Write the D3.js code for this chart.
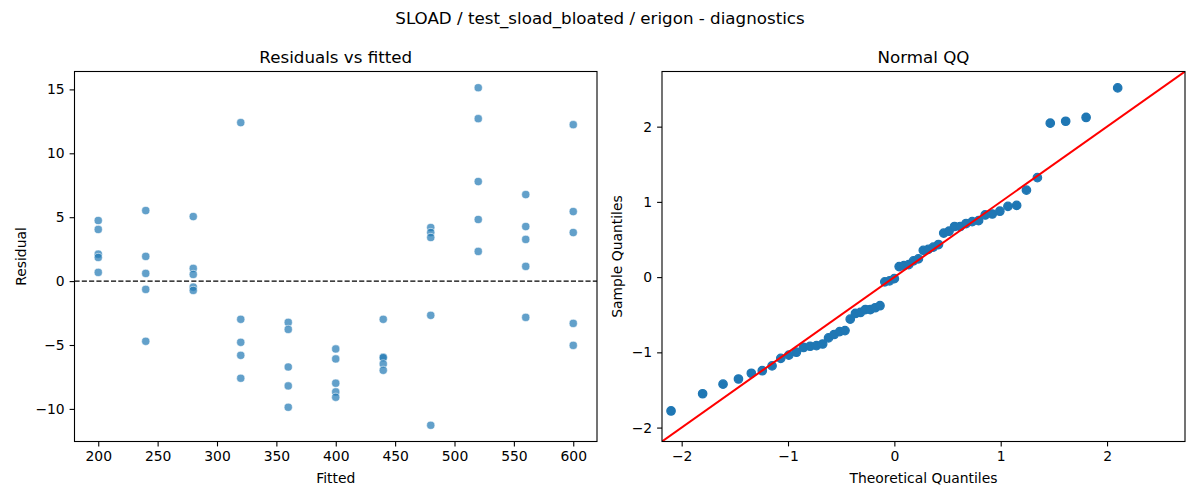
<!DOCTYPE html>
<html>
<head>
<meta charset="utf-8">
<script src="https://cdn.jsdelivr.net/npm/d3@7"></script>
<style>
  body { margin: 0; background: #fff; }
  svg { display: block; font-family: "DejaVu Sans", sans-serif; }
</style>
</head>
<body>
<svg id="chart" width="1200" height="500"></svg>
<script>
// ---- data ----
const fittedLevels = [200, 240, 280, 320, 360, 400, 440, 480, 520, 560, 600];
const residualsByLevel = [
  [4.74, 4.04, 2.11, 1.85, 0.68],
  [5.52, 1.93, 0.60, -0.65, -4.71],
  [5.05, 0.99, 0.52, -0.47, -0.73],
  [12.4, -2.99, -4.79, -5.81, -7.60],
  [-3.23, -3.78, -6.72, -8.20, -9.87],
  [-5.31, -6.09, -7.99, -8.67, -9.09],
  [-2.99, -5.94, -5.99, -6.48, -6.98],
  [4.19, 3.80, 3.41, -2.68, -11.28],
  [15.13, 12.71, 7.79, 4.82, 2.32],
  [6.77, 4.27, 3.26, 1.15, -2.84],
  [12.24, 5.44, 3.80, -3.31, -5.03]
];
const qqTheoretical = [
  -2.100, -1.803, -1.611, -1.466, -1.345, -1.242, -1.150, -1.068, -0.992, -0.921,
  -0.854, -0.792, -0.732, -0.674, -0.619, -0.566, -0.514, -0.464, -0.415, -0.366,
  -0.319, -0.272, -0.226, -0.180, -0.135, -0.090, -0.045, 0.000, 0.045, 0.090,
  0.135, 0.180, 0.226, 0.272, 0.319, 0.366, 0.415, 0.464, 0.514, 0.566,
  0.619, 0.674, 0.732, 0.792, 0.854, 0.921, 0.992, 1.068, 1.150, 1.242,
  1.345, 1.466, 1.611, 1.803, 2.100
];
const qqSample = [
  -1.779, -1.550, -1.423, -1.354, -1.278, -1.244, -1.180, -1.080, -1.037, -0.998,
  -0.935, -0.919, -0.911, -0.889, -0.808, -0.763, -0.724, -0.711, -0.559, -0.483,
  -0.470, -0.431, -0.431, -0.407, -0.380, -0.063, -0.050, -0.021, 0.140, 0.153,
  0.166, 0.216, 0.242, 0.356, 0.369, 0.398, 0.433, 0.585, 0.610, 0.673,
  0.673, 0.712, 0.737, 0.750, 0.826, 0.839, 0.876, 0.940, 0.953, 1.156,
  1.322, 2.046, 2.072, 2.122, 2.515
];
const residTicksX = [200, 250, 300, 350, 400, 450, 500, 550, 600];
const residTicksY = [-10, -5, 0, 5, 10, 15];
const qqTicks = [-2, -1, 0, 1, 2];
const qqLimits = [-2.185, 2.733];

// ---- layout ----
const svg = d3.select("#chart");
const yTop = 71.5, yBot = 441.5;
const L = { x0: 74.5, x1: 597 };
const R = { x0: 662, x1: 1185 };
const fmt = d => String(d).replace("-", "\u2212");
const TICK_FONT = "13.9px";

svg.append("text")
  .attr("x", 600).attr("y", 24)
  .attr("text-anchor", "middle")
  .style("font-size", "16.7px")
  .text("SLOAD / test_sload_bloated / erigon - diagnostics");

function drawAxes(g, x, y, xTicks, yTicks, x0, x1, title, xlabel, ylabel, ylabelX) {
  const gx = g.append("g").attr("transform", `translate(0,${yBot})`)
    .call(d3.axisBottom(x).tickValues(xTicks).tickSize(4.9).tickPadding(4.9).tickFormat(fmt));
  const gy = g.append("g").attr("transform", `translate(${x0},0)`)
    .call(d3.axisLeft(y).tickValues(yTicks).tickSize(4.9).tickPadding(4.9).tickFormat(fmt));
  [gx, gy].forEach(a => {
    a.select(".domain").remove();
    a.selectAll("line").attr("stroke", "#000").attr("stroke-width", 1.1);
    a.selectAll("text").style("font-size", TICK_FONT).attr("fill", "#000")
      .style("font-family", "DejaVu Sans, sans-serif");
  });
  g.append("rect").attr("x", x0).attr("y", yTop)
    .attr("width", x1 - x0).attr("height", yBot - yTop)
    .attr("fill", "none").attr("stroke", "#000").attr("stroke-width", 1.1);
  g.append("text").attr("x", (x0 + x1) / 2).attr("y", yTop - 8.5)
    .attr("text-anchor", "middle").style("font-size", "16.7px").text(title);
  g.append("text").attr("x", (x0 + x1) / 2).attr("y", 483)
    .attr("text-anchor", "middle").style("font-size", "13.9px").text(xlabel);
  g.append("text")
    .attr("transform", `translate(${ylabelX},${(yTop + yBot) / 2}) rotate(-90)`)
    .attr("text-anchor", "middle").style("font-size", "13.9px").text(ylabel);
}

// ---- left: residuals vs fitted ----
const xL = d3.scaleLinear().domain([180, 620]).range([L.x0, L.x1]);
const yL = d3.scaleLinear().domain([-12.55, 16.4]).range([yBot, yTop]);
const gL = svg.append("g");
svg.append("clipPath").attr("id", "clipL")
  .append("rect").attr("x", L.x0).attr("y", yTop).attr("width", L.x1 - L.x0).attr("height", yBot - yTop);

const residPoints = [];
fittedLevels.forEach((f, i) => residualsByLevel[i].forEach(r => residPoints.push({ f, r })));

gL.append("g").attr("clip-path", "url(#clipL)")
  .selectAll("circle").data(residPoints).enter().append("circle")
  .attr("cx", d => xL(d.f)).attr("cy", d => yL(d.r)).attr("r", 4.1)
  .attr("fill", "#1f77b4").attr("fill-opacity", 0.7)
  .attr("stroke", "#fff").attr("stroke-width", 0.8).attr("stroke-opacity", 0.7);

gL.append("line")
  .attr("x1", L.x0).attr("x2", L.x1).attr("y1", yL(0)).attr("y2", yL(0))
  .attr("stroke", "#000").attr("stroke-width", 1.1).attr("stroke-dasharray", "5.1,2.2");

drawAxes(gL, xL, yL, residTicksX, residTicksY, L.x0, L.x1,
  "Residuals vs fitted", "Fitted", "Residual", 26);

// ---- right: normal QQ ----
const xR = d3.scaleLinear().domain(qqLimits).range([R.x0, R.x1]);
const yR = d3.scaleLinear().domain(qqLimits).range([yBot, yTop]);
const gR = svg.append("g");
svg.append("clipPath").attr("id", "clipR")
  .append("rect").attr("x", R.x0).attr("y", yTop).attr("width", R.x1 - R.x0).attr("height", yBot - yTop);
const inner = gR.append("g").attr("clip-path", "url(#clipR)");

inner.selectAll("circle").data(qqTheoretical).enter().append("circle")
  .attr("cx", d => xR(d)).attr("cy", (d, i) => yR(qqSample[i])).attr("r", 4.2)
  .attr("fill", "#1f77b4").attr("stroke", "#1f77b4").attr("stroke-width", 1.3);

inner.append("line")
  .attr("x1", xR(qqLimits[0])).attr("y1", yR(qqLimits[0]))
  .attr("x2", xR(qqLimits[1])).attr("y2", yR(qqLimits[1]))
  .attr("stroke", "red").attr("stroke-width", 2);

drawAxes(gR, xR, yR, qqTicks, qqTicks, R.x0, R.x1,
  "Normal QQ", "Theoretical Quantiles", "Sample Quantiles", 622);
</script>
</body>
</html>
